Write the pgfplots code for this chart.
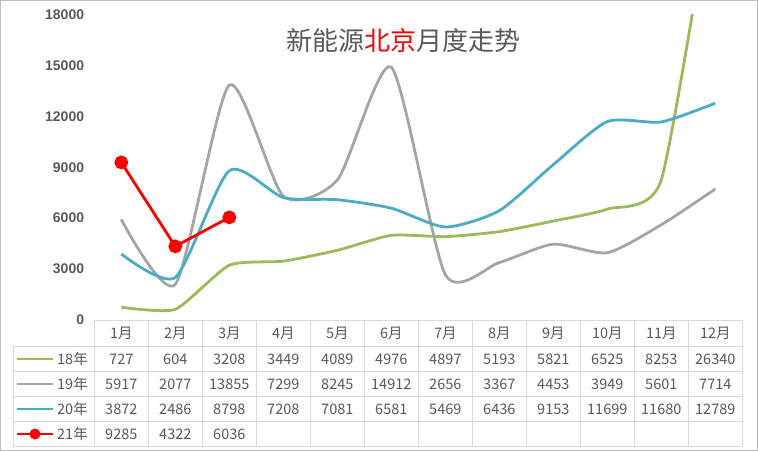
\documentclass[border=0pt]{standalone}
\usepackage{fontspec}
\setmainfont{Noto Sans CJK SC}
\newfontfamily\tickfont{Liberation Sans}
\usepackage{pgfplots}
\pgfplotsset{compat=1.18}

\definecolor{c18}{HTML}{9BBB59}
\definecolor{c19}{HTML}{A5A5A5}
\definecolor{c20}{HTML}{4BACC6}
\definecolor{c21}{HTML}{FF0000}
\definecolor{txt}{HTML}{595959}
\definecolor{cell}{HTML}{D9D9D9}
\definecolor{frame}{HTML}{BFBFBF}

\begin{document}
\begin{tikzpicture}[x=1pt,y=1pt]
  % outer frame
  \draw[frame, line width=1pt] (0.5,0.5) rectangle (757.5,450.5);

  \begin{axis}[
    at={(94.3pt,131.5pt)}, anchor=south west,
    scale only axis, width=648pt, height=304.5pt,
    xmin=0.5, xmax=12.5, ymin=0, ymax=18000,
    axis lines*=left, axis line style={draw=none},
    xtick=\empty, tick style={draw=none},
    ytick={0,3000,...,18000},
    scaled y ticks=false,
    /pgf/number format/.cd, 1000 sep={}, assume math mode=true,
    /pgfplots/.cd,
    yticklabel style={font=\tickfont\bfseries\fontsize{14}{14}\selectfont,
      text=txt, inner sep=0pt, xshift=-10pt},
    every axis plot/.append style={line width=2.8pt},
  ]
    \addplot[c18, smooth, tension=0.35, no marks] coordinates {
      (1,727) (2,604) (3,3208) (4,3449) (5,4089) (6,4976)
      (7,4897) (8,5193) (9,5821) (10,6525) (11,8253) (12,26340)};
    \addplot[c19, smooth, tension=0.4, no marks] coordinates {
      (1,5917) (2,2077) (3,13855) (4,7299) (5,8245) (6,14912)
      (7,2656) (8,3367) (9,4453) (10,3949) (11,5601) (12,7714)};
    \addplot[c20, smooth, tension=0.4, no marks] coordinates {
      (1,3872) (2,2486) (3,8798) (4,7208) (5,7081) (6,6581)
      (7,5469) (8,6436) (9,9153) (10,11699) (11,11680) (12,12789)};
    \addplot[c21, mark=*, mark size=5.5pt] coordinates {
      (1,9285) (2,4322) (3,6036)};
  \end{axis}

  % title
  \node[txt, font=\fontsize{26}{26}\selectfont] at (403,410)
    {新能源\textcolor{c21}{北京}月度走势};

  % data table grid
  \begin{scope}[cell, line width=0.8pt]
    \draw (94.3,130.3) -- (742.3,130.3);
    \foreach \y in {104.5,79.5,54.5,29.5,5} \draw (13.3,\y) -- (742.3,\y);
    \foreach \k in {0,...,12} \draw ({94.3+54*\k},130.3) -- ({94.3+54*\k},5);
    \draw (13.3,104.5) -- (13.3,5);
  \end{scope}

  \begin{scope}[txt, font=\fontsize{14.5}{14.5}\selectfont]
    \foreach \k in {1,...,12} \node at ({94.3+54*\k-27},117.5) {\k 月};
    \foreach \v [count=\k] in {727,604,3208,3449,4089,4976,4897,5193,5821,6525,8253,26340}
      \node at ({94.3+54*\k-27},92) {\v};
    \foreach \v [count=\k] in {5917,2077,13855,7299,8245,14912,2656,3367,4453,3949,5601,7714}
      \node at ({94.3+54*\k-27},67) {\v};
    \foreach \v [count=\k] in {3872,2486,8798,7208,7081,6581,5469,6436,9153,11699,11680,12789}
      \node at ({94.3+54*\k-27},42) {\v};
    \foreach \v [count=\k] in {9285,4322,6036}
      \node at ({94.3+54*\k-27},17) {\v};
    % series keys
    \draw[c18, line width=2.8pt] (17,92) -- (53,92);
    \draw[c19, line width=2.8pt] (17,67) -- (53,67);
    \draw[c20, line width=2.8pt] (17,42) -- (53,42);
    \draw[c21, line width=2.8pt] (17,17) -- (53,17);
    \fill[c21] (35,17) circle (5.5pt);
    \node[anchor=west, inner sep=0pt] at (57,92) {18年};
    \node[anchor=west, inner sep=0pt] at (57,67) {19年};
    \node[anchor=west, inner sep=0pt] at (57,42) {20年};
    \node[anchor=west, inner sep=0pt] at (57,17) {21年};
  \end{scope}
\end{tikzpicture}
\end{document}
